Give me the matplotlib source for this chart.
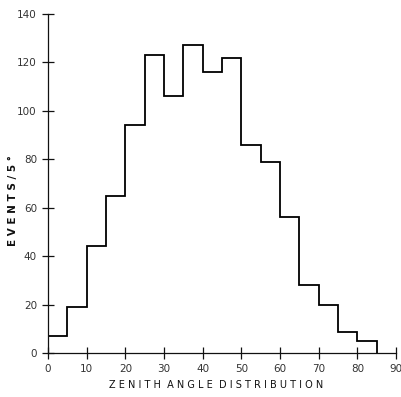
import matplotlib
matplotlib.use("Agg")
import matplotlib.pyplot as plt
import numpy as np

# zenith angle bins (deg) and events per 5 deg
edges = np.arange(0, 90, 5)
counts = [7, 19, 44, 65, 94, 123, 106, 127, 116, 122, 86, 79, 56, 28, 20, 8.5, 5]
xticks = list(range(0, 100, 10))
yticks = list(range(0, 160, 20))

fig = plt.figure(figsize=(4.01, 3.97), dpi=100)
ax = fig.add_axes([48/401, 44/397, 348/401, 339/397])

ax.stairs(counts, edges, color="black", linewidth=1.3)

ax.set_xlim(0, 90)
ax.set_ylim(0, 140)
ax.set_xticks(xticks)
ax.set_yticks(yticks)
ax.spines["top"].set_visible(False)
ax.spines["right"].set_visible(False)
for s in ("left", "bottom"):
    ax.spines[s].set_linewidth(0.9)
    ax.spines[s].set_color("#111111")
ax.tick_params(direction="inout", length=8, width=0.9, labelsize=7.5,
               color="#111111", labelcolor="#333333", pad=4)

ax.set_xlabel("Z E N I T H  A N G L E  D I S T R I B U T I O N",
              fontsize=7, color="#111111")
ax.set_ylabel("E V E N T S / 5 °", fontsize=7.5, color="#111111",
              fontweight="bold")
ax.yaxis.set_label_coords(-0.085, 0.45)
ax.xaxis.set_label_coords(0.483, -0.08)

fig.savefig("out.png", dpi=100)
